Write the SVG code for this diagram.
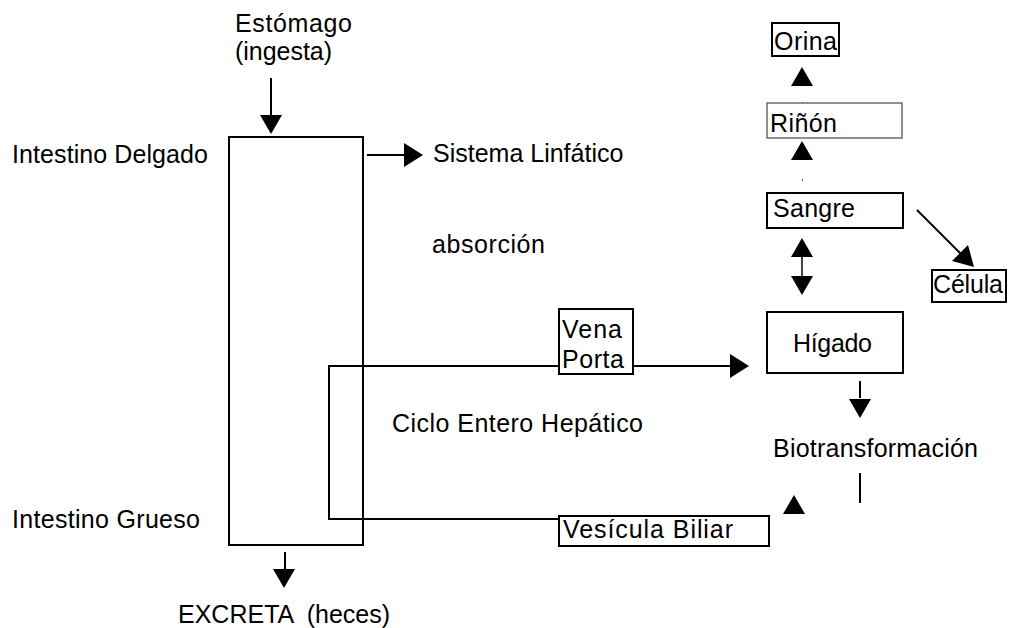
<svg xmlns="http://www.w3.org/2000/svg" width="1009" height="628" viewBox="0 0 1009 628">
  <style>
    text { font-family: "Liberation Sans", Arial, sans-serif; font-size: 25px; fill: #000; }
    .box { fill: #fff; stroke: #000; stroke-width: 2; }
    .thin { fill: #fff; stroke: #555; stroke-width: 1.3; }
    .ln { fill: none; stroke: #000; stroke-width: 2; }
    .head { fill: #000; stroke: none; }
  </style>
  <defs>
    <!-- arrowheads pointing down / up / right, tip at origin -->
    <polygon id="hd" points="-11,-19 11,-19 0,0"/>
    <polygon id="hu" points="-11,19 11,19 0,0"/>
    <polygon id="hr" points="-19,-12 -19,12 0,0"/>
  </defs>
  <rect width="1009" height="628" fill="#fff"/>

  <!-- free labels -->
  <g id="labels">
    <text x="235" y="32" textLength="117">Estómago</text>
    <text x="235" y="60" textLength="97">(ingesta)</text>
    <text x="12" y="163" textLength="196">Intestino Delgado</text>
    <text x="433" y="162">Sistema Linfático</text>
    <text x="432" y="253" textLength="113">absorción</text>
    <text x="392" y="432" textLength="251">Ciclo Entero Hepático</text>
    <text x="773" y="457" textLength="205">Biotransformación</text>
    <text x="12" y="528" textLength="188">Intestino Grueso</text>
    <text x="178" y="623" textLength="212" xml:space="preserve">EXCRETA  (heces)</text>
  </g>

  <!-- intestine -->
  <g id="intestino">
    <rect class="box" x="229" y="137" width="134" height="408"/>
  </g>

  <!-- connectors -->
  <g id="connectors">
    <!-- ingestion into intestine -->
    <line class="ln" x1="271" y1="78" x2="271" y2="116"/>
    <use href="#hd" class="head" x="271" y="134"/>
    <!-- to lymphatic system -->
    <line class="ln" x1="367" y1="155" x2="404" y2="155"/>
    <use href="#hr" class="head" x="423" y="155"/>
    <!-- excretion -->
    <line class="ln" x1="285" y1="552" x2="285" y2="569"/>
    <use href="#hd" class="head" x="284" y="588"/>
    <!-- enterohepatic cycle -->
    <polyline class="ln" points="560,519 329,519 329,366 560,366"/>
    <line class="ln" x1="633" y1="366" x2="731" y2="366"/>
    <use href="#hr" class="head" x="749" y="366"/>
    <!-- liver to biotransformation -->
    <line class="ln" x1="860" y1="381" x2="860" y2="398"/>
    <use href="#hd" class="head" x="860" y="418"/>
    <line class="ln" x1="860" y1="473" x2="860" y2="503"/>
    <use href="#hu" class="head" x="794" y="495"/>
    <!-- blood / liver exchange -->
    <line x1="802" y1="256" x2="802" y2="277" stroke="#444" stroke-width="2"/>
    <use href="#hu" class="head" x="802" y="238"/>
    <use href="#hd" class="head" x="802" y="295"/>
    <!-- blood to kidney, kidney to urine -->
    <use href="#hu" class="head" x="802" y="141"/>
    <use href="#hu" class="head" x="802" y="67"/>
    <rect x="802" y="102" width="1" height="2" fill="#555"/>
    <rect x="802" y="179" width="1" height="2" fill="#555"/>
    <!-- blood to cell -->
    <line class="ln" x1="917" y1="210" x2="962" y2="255"/>
    <polygon class="head" points="974,267 952,261 968,245"/>
  </g>

  <g id="vena-porta">
    <rect class="box" x="559" y="309" width="74" height="65"/>
    <text x="562" y="338" textLength="60">Vena</text>
    <text x="562" y="368" textLength="62">Porta</text>
  </g>

  <g id="vesicula">
    <rect class="box" x="559" y="516" width="210" height="30"/>
    <text x="563" y="538" textLength="170">Vesícula Biliar</text>
  </g>

  <g id="higado">
    <rect class="box" x="767" y="312" width="136" height="61"/>
    <text x="793" y="352" textLength="79">Hígado</text>
  </g>

  <g id="sangre">
    <rect class="box" x="767" y="193" width="136" height="35"/>
    <text x="773" y="217" textLength="82">Sangre</text>
  </g>

  <g id="rinon">
    <rect class="thin" x="767" y="103" width="135" height="35"/>
    <text x="770" y="132" textLength="67">Riñón</text>
  </g>

  <g id="orina">
    <rect class="box" x="772" y="23" width="67" height="33"/>
    <text x="774" y="50" textLength="63">Orina</text>
  </g>

  <g id="celula">
    <rect class="box" x="932" y="270" width="74" height="32"/>
    <text x="933" y="293" textLength="70">Célula</text>
  </g>
</svg>
